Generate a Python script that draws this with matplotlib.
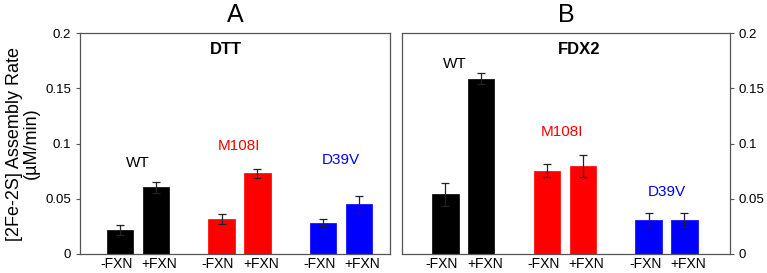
import numpy as np
import matplotlib.pyplot as plt

plt.rcParams['font.family'] = ['Liberation Sans', 'DejaVu Sans']

groups = ['WT', 'M108I', 'D39V']
group_colors = ['black', '#ff0000', '#0000ff']
conditions = ['-FXN', '+FXN']

# DTT panel (A)
dtt_minus = [0.0217, 0.0314, 0.0284]
dtt_minus_err = [0.0043, 0.0046, 0.0033]
dtt_plus = [0.0603, 0.0730, 0.0450]
dtt_plus_err = [0.0047, 0.0042, 0.0075]

# FDX2 panel (B)
fdx_minus = [0.0540, 0.0754, 0.0308]
fdx_minus_err = [0.0105, 0.0058, 0.0060]
fdx_plus = [0.1587, 0.0793, 0.0308]
fdx_plus_err = [0.0051, 0.0100, 0.0060]

# group label heights (data units)
dtt_label_y = [0.082, 0.098, 0.085]
fdx_label_y = [0.1725, 0.1107, 0.0564]
fdx_label_dx = [-0.08, -0.03, 0.0]

fig = plt.figure(figsize=(7.67, 2.73), dpi=100)
axA = fig.add_axes([0.1043, 0.0696, 0.4042, 0.809])
axB = fig.add_axes([0.5241, 0.0696, 0.4276, 0.809])

off = 0.176
width = 0.26
gx = np.arange(len(groups))


def draw(ax, minus, minus_err, plus, plus_err, label_y, label_dx, title, inner, inner_x):
    for i, g in enumerate(groups):
        xs = [gx[i] - off, gx[i] + off]
        vals = [minus[i], plus[i]]
        errs = [minus_err[i], plus_err[i]]
        ax.bar(xs, vals, width=width, color=group_colors[i], edgecolor=group_colors[i], linewidth=0.5)
        ax.errorbar(xs, vals, yerr=errs, fmt='none', ecolor='#222222', elinewidth=0.9,
                    capsize=3.2, capthick=0.9)
        ax.text(gx[i] + label_dx[i], label_y[i], g, color=group_colors[i], ha='center',
                va='center', fontsize=11)
    lab_off = off + 0.035
    ticks = np.concatenate([[gx[i] - lab_off, gx[i] + lab_off] for i in range(len(groups))])
    ax.set_xticks(ticks)
    ax.set_xticklabels(conditions * len(groups), fontsize=10)
    ax.tick_params(axis='x', length=0, pad=2.5)
    ax.set_ylim(0, 0.2)
    ax.set_yticks([0, 0.05, 0.1, 0.15, 0.2])
    ax.set_yticklabels(['0', '0.05', '0.1', '0.15', '0.2'], fontsize=9.5)
    ax.tick_params(axis='y', length=3, width=0.8, color='#555555')
    for s in ax.spines.values():
        s.set_color('#555555')
        s.set_linewidth(0.9)
    ax.set_title(title, fontsize=18, pad=8)
    ax.text(inner_x, 0.925, inner, transform=ax.transAxes, ha='center', va='center',
            fontsize=12, fontweight='bold')


draw(axA, dtt_minus, dtt_minus_err, dtt_plus, dtt_plus_err, dtt_label_y, [0, 0, 0],
     'A', 'DTT', 0.47)
axA.set_xlim(-0.571, 2.483)
axA.set_ylabel('[2Fe-2S] Assembly Rate\n(µM/min)', fontsize=13, labelpad=4, linespacing=0.95)

draw(axB, fdx_minus, fdx_minus_err, fdx_plus, fdx_plus_err, fdx_label_y, fdx_label_dx,
     'B', 'FDX2', 0.54)
axB.set_xlim(-0.604, 2.624)
axB.yaxis.tick_right()
axB.tick_params(axis='y', left=False)

fig.savefig('out.png', dpi=100)
